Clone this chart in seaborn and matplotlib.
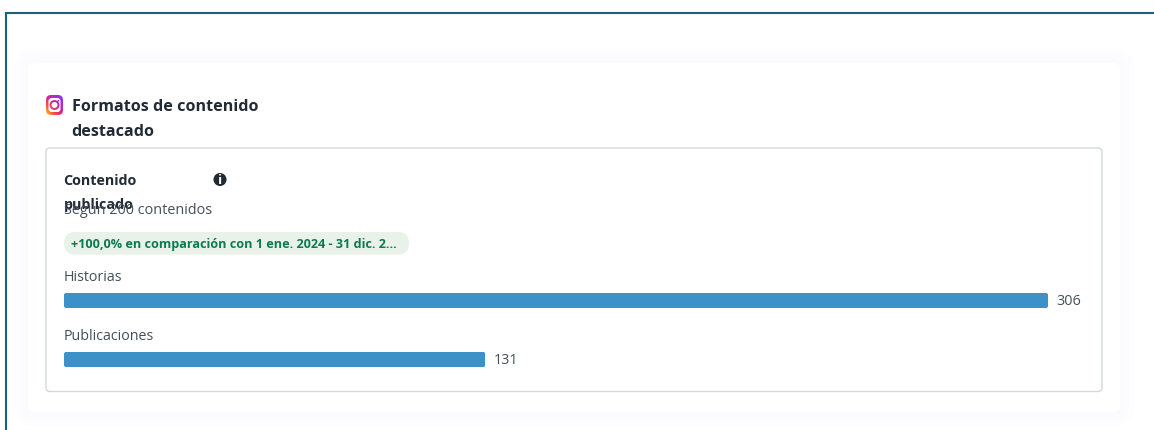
import numpy as np
import pandas as pd
import matplotlib
matplotlib.use("Agg")
import matplotlib.pyplot as plt
import seaborn as sns
from matplotlib.colors import LinearSegmentedColormap
from matplotlib.patches import FancyBboxPatch, Circle

# values
categories = ["Historias", "Publicaciones"]
values = [306, 131]

title_lines = ["Formatos de contenido", "destacado"]
subtitle_lines = ["Contenido", "publicado"]
total_text = "Según 200 contenidos"
badge_text = "+100,0% en comparación con 1 ene. 2024 - 31 dic. 2..."

BAR_BLUE = "#3d91c9"
DARK = "#212b36"
GREY = "#454f5b"
W, H = 1154, 431

sns.set_theme(style="white")
plt.rcParams["font.family"] = ["Open Sans", "DejaVu Sans"]

fig = plt.figure(figsize=(W / 100, H / 100), dpi=100, facecolor="white")

# background layer in pixel coordinates, nudged 1 px down
bg = fig.add_axes([0, 0, 1, 1], zorder=0)
bg.set_xlim(0, W)
bg.set_ylim(H - 1, -1)
bg.axis("off")


def rounded(x0, y0, x1, y1, r, **kw):
    p = FancyBboxPatch((x0 + r, y0 + r), x1 - x0 - 2 * r, y1 - y0 - 2 * r,
                       boxstyle=f"round,pad={r},rounding_size={r}", **kw)
    bg.add_patch(p)
    return p


# soft glow around the card
for grow, col in [(14, "#fdfdff"), (9, "#fcfcfe"), (4, "#fbfbfe")]:
    rounded(28 - grow, 63 - grow, 1120 + grow, 412 + grow, 8 + grow, fc=col, ec="none")
rounded(28, 63, 1120, 412, 6, fc="white", ec="none")

# page frame
bg.plot([5.5, 5.5, W], [H, 12.5, 12.5], color="#1b6083", lw=1.5, solid_joinstyle="miter")

# inner panel
rounded(46, 148, 1102, 391.5, 4, fc="white", ec="#d3d8de", lw=1.0)

# logo
ig_cmap = LinearSegmentedColormap.from_list(
    "ig", ["#ffc23c", "#f9563c", "#e0218a", "#a52fd6", "#7a3ff0"])
grad = 1 - np.add.outer(np.linspace(0, 1, 64), np.linspace(1, 0, 64)) / 2
box = (46, 63, 115, 95)
im = bg.imshow(grad, cmap=ig_cmap, extent=box, aspect="auto", zorder=3)
im.set_clip_path(rounded(46, 95, 63, 115, 5, fc="none", ec="none"))
rounded(48.5, 98, 60.5, 112, 3, fc="white", ec="none", zorder=4)
im2 = bg.imshow(grad, cmap=ig_cmap, extent=box, aspect="auto", zorder=5)
ring = Circle((54.5, 105), 5, fc="none", ec="none")
bg.add_patch(ring)
im2.set_clip_path(ring)
bg.add_patch(Circle((54.5, 105), 3, fc="white", ec="none", zorder=6))
bg.add_patch(Circle((58.4, 100.8), 0.9, fc="#c02fb0", ec="none", zorder=6))
bg.set_xlim(0, W)
bg.set_ylim(H - 1, -1)

# header texts
bg.text(71.5, 105.5, title_lines[0], fontsize=11.6, fontweight="bold", color=DARK, va="center")
bg.text(71.5, 130.5, title_lines[1], fontsize=11.6, fontweight="bold", color=DARK, va="center")
bg.text(63.5, 180, subtitle_lines[0], fontsize=10.3, fontweight="bold", color=DARK, va="center")
bg.text(63.5, 204.5, subtitle_lines[1], fontsize=10.3, fontweight="bold", color=DARK, va="center")
bg.text(63.5, 209.5, total_text, fontsize=10.4, color=GREY, va="center")

# info icon
bg.add_patch(Circle((220, 179.5), 6.5, fc=DARK, ec="none"))
bg.text(220, 179.5, "i", fontsize=9.5, fontweight="bold", color="white", ha="center", va="center")

# comparison badge
rounded(64, 232, 409, 254.5, 11, fc="#e8f2e9", ec="none")
bg.text(71, 243.5, badge_text, fontsize=9.05, fontweight="bold", color="#0f7a50", va="center")

# bars: 0..306 spans x 64..1048, categories 59 px apart
ax = fig.add_axes([64 / W, 1 - 390 / H, 984 / W, 118 / H], zorder=1)
ax.patch.set_alpha(0)
df = pd.DataFrame({"formato": categories, "total": values})
sns.barplot(data=df, x="total", y="formato", color=BAR_BLUE, saturation=1,
            width=0.254, linewidth=0, ax=ax)
ax.set_xlim(0, max(values))
ax.set_ylim(1.5, -0.5)
ax.axis("off")

for c in ax.containers:
    ax.bar_label(c, padding=5.8, fontsize=10.4, color=GREY, clip_on=False)

for i, cat in enumerate(categories):
    ax.text(0, i - 0.40, cat, fontsize=10.3, color=GREY, va="center", ha="left")

# rounded bar ends
fig.canvas.draw()
for bar in ax.patches:
    ext = bar.get_window_extent()
    x0, y1 = bg.transData.inverted().transform((ext.x0, ext.y0))
    x1, y0 = bg.transData.inverted().transform((ext.x1, ext.y1))
    clip = rounded(x0, y0, x1, y1, 2, fc="none", ec="none")
    bar.set_clip_path(clip)

fig.savefig("out.png", dpi=100)
